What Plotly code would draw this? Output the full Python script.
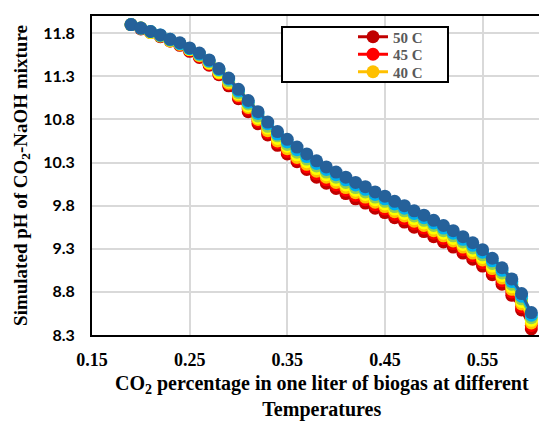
import plotly.graph_objects as go

co2 = [0.19, 0.20, 0.21, 0.22, 0.23, 0.24, 0.25, 0.26, 0.27, 0.28, 0.29, 0.30, 0.31, 0.32,
       0.33, 0.34, 0.35, 0.36, 0.37, 0.38, 0.39, 0.40, 0.41, 0.42, 0.43, 0.44, 0.45, 0.46,
       0.47, 0.48, 0.49, 0.50, 0.51, 0.52, 0.53, 0.54, 0.55, 0.56, 0.57, 0.58, 0.59, 0.60]

ph_50 = [11.90, 11.85, 11.81, 11.76, 11.71, 11.66, 11.59, 11.52, 11.43, 11.32, 11.19, 11.04, 10.89, 10.75,
         10.62, 10.50, 10.40, 10.31, 10.22, 10.13, 10.06, 10.00, 9.94, 9.88, 9.83, 9.77, 9.72, 9.66,
         9.61, 9.55, 9.50, 9.44, 9.38, 9.32, 9.25, 9.18, 9.10, 9.00, 8.89, 8.76, 8.59, 8.37]
ph_45 = [11.90, 11.86, 11.81, 11.77, 11.71, 11.67, 11.60, 11.53, 11.44, 11.33, 11.21, 11.06, 10.92, 10.78,
         10.65, 10.53, 10.43, 10.34, 10.25, 10.17, 10.10, 10.04, 9.98, 9.92, 9.87, 9.81, 9.76, 9.70,
         9.65, 9.59, 9.54, 9.48, 9.42, 9.36, 9.29, 9.22, 9.14, 9.04, 8.93, 8.80, 8.63, 8.41]
ph_40 = [11.90, 11.86, 11.81, 11.77, 11.71, 11.67, 11.61, 11.54, 11.45, 11.34, 11.22, 11.08, 10.94, 10.80,
         10.67, 10.55, 10.46, 10.36, 10.28, 10.20, 10.13, 10.07, 10.01, 9.95, 9.90, 9.84, 9.79, 9.73,
         9.68, 9.62, 9.57, 9.51, 9.45, 9.39, 9.32, 9.25, 9.17, 9.07, 8.96, 8.83, 8.66, 8.44]
ph_35 = [11.90, 11.86, 11.81, 11.77, 11.72, 11.68, 11.61, 11.55, 11.46, 11.35, 11.24, 11.10, 10.96, 10.82,
         10.70, 10.58, 10.49, 10.39, 10.31, 10.23, 10.16, 10.10, 10.04, 9.98, 9.93, 9.87, 9.82, 9.76,
         9.71, 9.65, 9.60, 9.54, 9.48, 9.42, 9.35, 9.28, 9.20, 9.10, 8.99, 8.86, 8.69, 8.47]
ph_30 = [11.90, 11.86, 11.82, 11.77, 11.72, 11.68, 11.62, 11.55, 11.47, 11.37, 11.25, 11.11, 10.98, 10.84,
         10.72, 10.61, 10.51, 10.42, 10.34, 10.26, 10.19, 10.13, 10.07, 10.01, 9.96, 9.90, 9.85, 9.79,
         9.74, 9.68, 9.63, 9.57, 9.51, 9.45, 9.38, 9.31, 9.23, 9.13, 9.02, 8.89, 8.72, 8.50]
ph_25 = [11.90, 11.86, 11.82, 11.78, 11.73, 11.68, 11.62, 11.56, 11.48, 11.38, 11.27, 11.13, 11.00, 10.87,
         10.75, 10.63, 10.54, 10.45, 10.37, 10.29, 10.22, 10.16, 10.10, 10.04, 9.99, 9.93, 9.88, 9.82,
         9.77, 9.71, 9.66, 9.60, 9.54, 9.48, 9.41, 9.34, 9.26, 9.16, 9.05, 8.92, 8.75, 8.53]
ph_20 = [11.90, 11.86, 11.82, 11.78, 11.73, 11.69, 11.63, 11.57, 11.49, 11.39, 11.28, 11.15, 11.02, 10.89,
         10.77, 10.66, 10.57, 10.48, 10.40, 10.32, 10.25, 10.19, 10.13, 10.07, 10.02, 9.96, 9.91, 9.85,
         9.80, 9.74, 9.69, 9.63, 9.57, 9.51, 9.44, 9.37, 9.29, 9.19, 9.08, 8.95, 8.78, 8.56]

series_names = ["50 C", "45 C", "40 C", "35 C", "30 C", "25 C", "20 C"]
series_values = [ph_50, ph_45, ph_40, ph_35, ph_30, ph_25, ph_20]
series_colors = ["#C00000", "#FF0000", "#FFC000", "#FFFF00", "#92D050", "#00B0F0", "#25619A"]
series_legend = ["legend", "legend2", "legend3", None, None, None, None]

x_ticks = [0.15, 0.25, 0.35, 0.45, 0.55]
y_ticks = [8.3, 8.8, 9.3, 9.8, 10.3, 10.8, 11.3, 11.8]

# The page body has an 8px margin, so the figure is drawn 8px lower and to the right.
OFF = 8
W, H = 547 - OFF, 421 - OFF
L, R, T, B = 92 - OFF, 2, 16 - OFF, 86
pw, ph = W - L - R, H - T - B

def px_x(p):  # page pixel -> paper x
    return (p - OFF - L) / pw

def px_y(p):  # page pixel -> paper y
    return (H - B - (p - OFF)) / ph

serif = "Liberation Serif, Times New Roman, serif"

fig = go.Figure()
for name, vals, col, lg in zip(series_names, series_values, series_colors, series_legend):
    kw = dict(showlegend=False) if lg is None else dict(showlegend=True, legend=lg)
    fig.add_trace(go.Scatter(
        x=co2, y=vals, name=name, mode="lines+markers",
        line=dict(color=col, width=3),
        marker=dict(color=col, size=13, line=dict(width=0)),
        **kw,
    ))

legend_font = dict(family=serif, size=15, color="#595959", weight="bold")
legend_rows = [37, 54.5, 72]
legend_cfg = {}
for key, row in zip(["legend", "legend2", "legend3"], legend_rows):
    legend_cfg[key] = dict(
        x=px_x(353), y=px_y(row), xanchor="left", yanchor="middle",
        bgcolor="rgba(0,0,0,0)", borderwidth=0, font=legend_font, itemwidth=30,
    )

fig.update_layout(
    width=W, height=H,
    margin=dict(l=L, r=R, t=T, b=B, autoexpand=False),
    plot_bgcolor="white", paper_bgcolor="white",
    showlegend=True,
    **legend_cfg,
    xaxis=dict(
        range=[0.15, 0.614], tickvals=x_ticks, ticktext=[f"{v:.2f}" for v in x_ticks],
        showgrid=True, gridcolor="#D9D9D9", gridwidth=2,
        showline=True, linecolor="black", linewidth=2, mirror=True,
        ticks="", zeroline=False, automargin=False,
        tickfont=dict(family=serif, size=18, color="black", weight="bold"),
        ticklabelstandoff=7,
    ),
    yaxis=dict(
        range=[8.3, 12.0], tickvals=y_ticks, ticktext=[f"{v:.1f}" for v in y_ticks],
        showgrid=True, gridcolor="#D9D9D9", gridwidth=2,
        showline=True, linecolor="black", linewidth=2, mirror=True,
        ticks="", zeroline=False, automargin=False,
        tickfont=dict(family="Lato, Open Sans, sans-serif", size=16, color="black", weight="bold"),
        ticklabelstandoff=12,
        title=dict(text="Simulated pH of CO<sub>2</sub>-NaOH mixture",
                   font=dict(family=serif, size=19, color="black", weight="bold"),
                   standoff=11),
    ),
    shapes=[dict(type="rect", xref="paper", yref="paper",
                 x0=px_x(282), x1=px_x(448), y0=px_y(82), y1=px_y(27),
                 line=dict(color="black", width=2), fillcolor="white", layer="above")],
    annotations=[
        dict(text="CO<sub>2</sub> percentage in one liter of biogas at different<br>Temperatures",
             xref="paper", yref="paper", x=px_x(322), y=px_y(396), xanchor="center", yanchor="middle",
             align="center", showarrow=False, borderpad=0,
             font=dict(family=serif, size=20, color="black", weight="bold")),
    ],
)

fig.write_html("out.html")
